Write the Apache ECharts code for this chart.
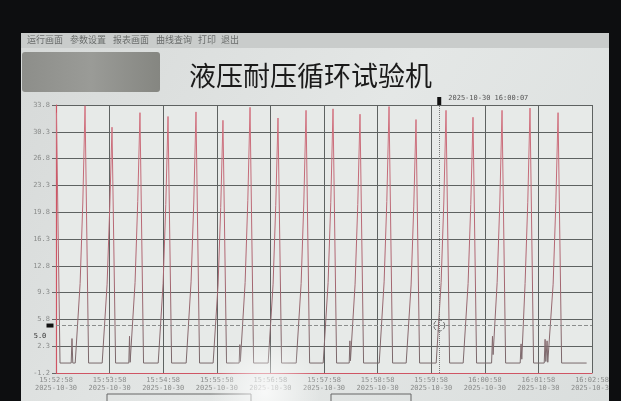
<!DOCTYPE html>
<html>
<head>
<meta charset="utf-8">
<script src="https://cdn.jsdelivr.net/npm/echarts@6/dist/echarts.min.js"></script>
<style>
html,body{margin:0;padding:0;background:#000;}
#c{width:621px;height:401px;}
</style>
</head>
<body>
<div id="c"></div>
<script>
// ---- data (seconds after 15:52:58, pressure value) ----
var startTime = [15, 52, 58];
var dateLabel = '2025-10-30';
var yTicks = [-1.2, 2.3, 5.8, 9.3, 12.8, 16.3, 19.8, 23.3, 26.8, 30.3, 33.8];
var menuItems = ['运行画面', '参数设置', '报表画面', '曲线查询', '打印', '退出'];
var titleText = '液压耐压循环试验机';
var cursorTime = 429;          // 16:00:07
var cursorLabel = '2025-10-30 16:00:07';
var refValue = 5.0;

var seconds = [
  0.5, 4.5, 17.0, 17.9, 18.8, 21.5, 27.0, 30.0, 32.5,
  36.5, 51.7, 57.2, 60.2, 62.7,
  66.7, 81.5, 82.3, 83.0, 88.5, 91.5, 94.0,
  98.0, 114.4, 119.9, 122.9, 125.4,
  129.4, 145.7, 151.2, 154.2, 156.7,
  160.7, 175.9, 181.4, 184.4, 186.9,
  190.9, 205.0, 205.8, 206.4, 211.7, 214.7, 217.2,
  221.2, 237.5, 243.0, 246.0, 248.5,
  252.5, 268.9, 274.4, 277.4, 279.9,
  283.9, 299.1, 304.6, 307.6, 310.1,
  314.1, 328.2, 329.0, 329.6, 334.8, 337.8, 340.3,
  344.3, 361.8, 367.3, 370.3, 372.8,
  376.8, 392.0, 397.5, 400.5, 403.0,
  407.0, 425.6, 431.1, 434.1, 436.6,
  440.6, 455.8, 461.3, 464.3, 466.8,
  470.8, 487.6, 488.6, 489.3, 493.8, 496.8, 499.3,
  503.3, 519.6, 520.6, 521.4, 525.1, 528.1, 530.6,
  534.6, 546.5, 547.5, 548.3, 549.7, 550.5, 551.0, 556.5, 559.5, 562.0,
  566.0, 594.0
];
var pressure = [
  32.8, 0.1, 0.1, 3.3, 0.1, 0.1, 10.5, 21.0, 33.7,
  0.1, 0.1, 10.4, 20.5, 30.9,
  0.1, 0.1, 3.6, 0.2, 10.6, 21.2, 32.8,
  0.1, 0.1, 10.5, 20.8, 32.3,
  0.1, 0.1, 10.7, 21.0, 32.9,
  0.1, 0.1, 10.3, 20.4, 31.8,
  0.1, 0.1, 2.5, 0.3, 10.6, 21.3, 33.5,
  0.1, 0.1, 10.4, 20.7, 32.1,
  0.1, 0.1, 10.5, 21.0, 33.1,
  0.1, 0.1, 10.6, 21.1, 33.3,
  0.1, 0.1, 3.0, 0.4, 10.4, 20.8, 32.6,
  0.1, 0.1, 10.7, 21.2, 33.6,
  0.1, 0.1, 10.3, 20.6, 31.9,
  0.1, 0.1, 10.6, 21.0, 33.1,
  0.1, 0.1, 10.5, 20.8, 32.2,
  0.1, 0.1, 3.6, 1.2, 10.6, 21.0, 33.1,
  0.1, 0.1, 2.6, 0.6, 10.5, 21.1, 33.4,
  0.1, 0.1, 3.2, 0.3, 3.0, 0.2, 0.1, 10.4, 20.9, 32.8,
  0.1, 0.1
];

function pad(n){ return (n < 10 ? '0' : '') + n; }
function timeLabel(v){
  var t = startTime[0]*3600 + startTime[1]*60 + startTime[2] + Math.round(v);
  var h = Math.floor(t/3600), m = Math.floor((t%3600)/60), s = t%60;
  return pad(h) + ':' + pad(m) + ':' + pad(s) + '\n' + dateLabel;
}

var lineData = seconds.map(function(s, i){ return [s, pressure[i]]; });

var chart = echarts.init(document.getElementById('c'));

var menuX = [27, 70, 113, 156, 198, 221];
var graphics = [
  // screen background
  {type:'rect', z:-10, shape:{x:21, y:33, width:588, height:368},
   style:{fill:new echarts.graphic.LinearGradient(0,0,1,1,[{offset:0,color:'#d6d9d8'},{offset:0.5,color:'#e4e7e6'},{offset:1,color:'#dadedd'}])}},
  // menu bar
  {type:'rect', z:-9, shape:{x:21, y:33, width:588, height:15}, style:{fill:'#c9cccb'}},
  // blurred grey box
  {type:'rect', z:-9, shape:{x:22, y:52, width:138, height:40, r:3},
   style:{fill:new echarts.graphic.LinearGradient(0,0,1,0,[{offset:0,color:'#8d8e8a'},{offset:0.5,color:'#9a9b97'},{offset:1,color:'#858681'}])}},
  // plot area background
  {type:'rect', z:-8, shape:{x:56, y:105, width:536, height:268}, style:{fill:'#e7eae8'}},
  // bottom buttons
  {type:'rect', z:-7, shape:{x:107, y:394, width:144, height:10}, style:{fill:'none', stroke:'#666', lineWidth:1}},
  {type:'rect', z:-7, shape:{x:331, y:394, width:80, height:10}, style:{fill:'none', stroke:'#666', lineWidth:1}},
  // glare
  {type:'circle', z:50, shape:{cx:265, cy:392, r:55},
   style:{fill:new echarts.graphic.RadialGradient(0.5,0.5,0.5,[{offset:0,color:'rgba(255,255,255,0.75)'},{offset:1,color:'rgba(255,255,255,0)'}])}},
  // bezel
  {type:'rect', z:100, shape:{x:0, y:0, width:621, height:33}, style:{fill:'#0d0e10'}},
  {type:'rect', z:100, shape:{x:0, y:0, width:21, height:401}, style:{fill:'#0d0e10'}},
  {type:'rect', z:100, shape:{x:609, y:0, width:12, height:401}, style:{fill:'#0d0e10'}}
];
menuItems.forEach(function(t, i){
  graphics.push({type:'text', z:10, x:menuX[i], y:35,
    style:{text:t, fill:'#6a6d6c', font:'9px "Noto Sans CJK SC"'}});
});

chart.setOption({
  animation:false,
  backgroundColor:'#000',
  title:{text:titleText, left:'center', top:57,
    textStyle:{fontFamily:'"Noto Sans CJK SC"', fontSize:27, fontWeight:'normal', color:'#1a1a1a'}},
  graphic:graphics,
  grid:{left:56, right:29, top:105, bottom:28, containLabel:false},
  xAxis:{type:'value', min:0, max:600, interval:60,
    axisLine:{show:true, onZero:false, lineStyle:{color:'#cf5564', width:1.2}},
    axisTick:{show:false},
    splitLine:{show:true, lineStyle:{color:'#5e6261', width:1}},
    axisLabel:{formatter:timeLabel, fontSize:7, color:'#8a8c8b', lineHeight:8, margin:3,
      fontFamily:'DejaVu Sans Mono', showMaxLabel:true, showMinLabel:true}},
  yAxis:{type:'value', min:yTicks[0], max:yTicks[yTicks.length-1], interval:3.5,
    axisLine:{show:true, lineStyle:{color:'#cf5564', width:1.2}},
    axisTick:{show:true, length:4, lineStyle:{color:'#666'}},
    splitLine:{show:true, lineStyle:{color:'#5e6261', width:1}},
    axisLabel:{formatter:function(v){return v.toFixed(1);}, fontSize:7, color:'#8a8c8b', margin:6,
      fontFamily:'DejaVu Sans Mono'}},
  series:[{
    type:'line', data:lineData, showSymbol:false, symbol:'none',
    lineStyle:{width:1, color:new echarts.graphic.LinearGradient(0,0,0,1,[{offset:0,color:'#d4707e'},{offset:0.6,color:'#b06672'},{offset:1,color:'#77696b'}])},
    markLine:{silent:true, symbol:['none','none'], animation:false,
      label:{show:false},
      data:[
        {xAxis:cursorTime, lineStyle:{type:'dotted', color:'#777', width:1}},
        {yAxis:refValue, lineStyle:{type:'dashed', color:'#8a8d8c', width:1}}
      ]},
    markPoint:{silent:true, animation:false,
      data:[
        {coord:[cursorTime, 33.8], symbol:'rect', symbolSize:[4,8], symbolOffset:[0,-4],
          itemStyle:{color:'#111'},
          label:{show:true, position:'right', formatter:cursorLabel, fontSize:7, color:'#555', offset:[2,-3],
            fontFamily:'DejaVu Sans Mono'}},
        {coord:[0, refValue], symbol:'rect', symbolSize:[7,4], symbolOffset:[-6,0],
          itemStyle:{color:'#111'},
          label:{show:true, position:'bottom', formatter:'5.0', fontSize:7, color:'#333', offset:[-10,0],
            fontFamily:'DejaVu Sans Mono'}},
        {coord:[cursorTime, refValue], symbol:'circle', symbolSize:11,
          itemStyle:{color:'rgba(0,0,0,0)', borderColor:'#666', borderWidth:1, borderType:'dashed'},
          label:{show:false}}
      ]}
  }]
});
</script>
</body>
</html>
